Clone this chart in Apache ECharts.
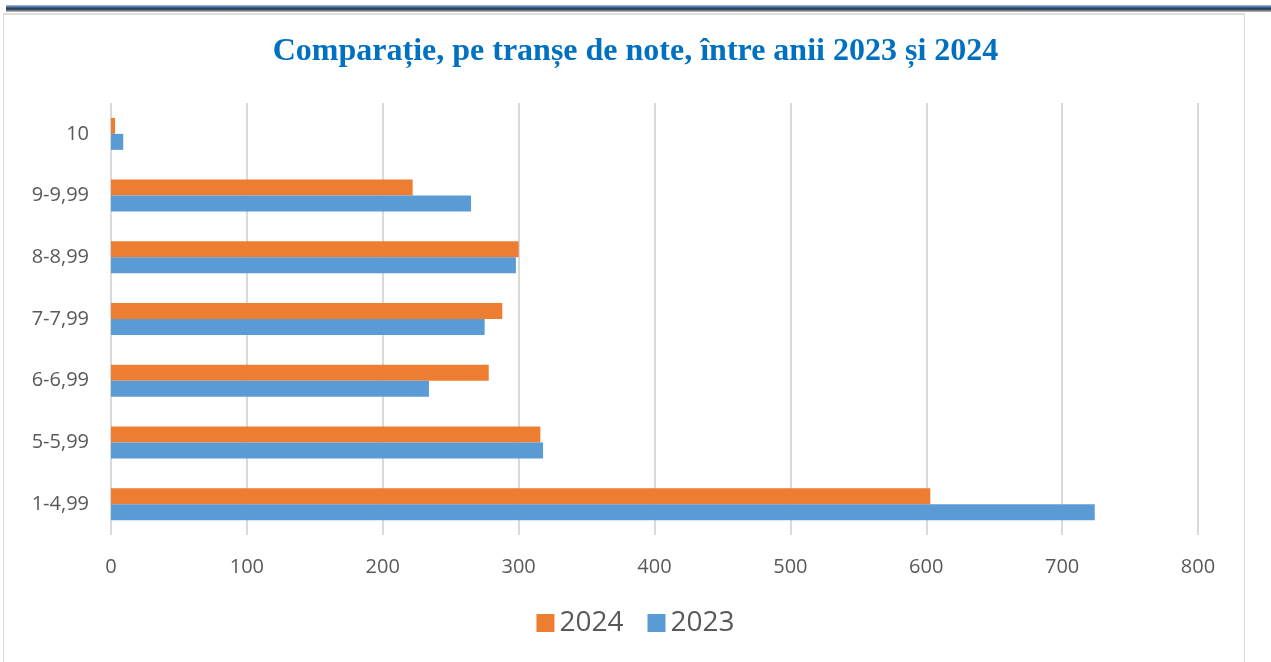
<!DOCTYPE html>
<html>
<head>
<meta charset="utf-8">
<script src="https://cdn.jsdelivr.net/npm/echarts@6/dist/echarts.min.js"></script>
<style>
    html, body { margin: 0; padding: 0; background: #fff; }
    #topline {
        position: absolute; left: 6px; top: 5px; width: 1265px; height: 7px;
        background: linear-gradient(#a9c4e4 0%, #4a6a98 30%, #1f3556 55%, #7a7a7a 80%, #c8c8c8 100%);
    }
    #frame {
        position: absolute; left: 3px; top: 13px; width: 1240px; height: 660px;
        border: 1px solid #d9d9d9; border-top: 2px solid #dedede;
    }
    #chart { position: absolute; left: 0; top: 0; width: 1271px; height: 662px; }
</style>
</head>
<body>
<div id="topline"></div>
<div id="frame"></div>
<div id="chart"></div>
<script>
let $ = a=>document.querySelector(a)

// categorii (de jos in sus)
const categories = ['1-4,99', '5-5,99', '6-6,99', '7-7,99', '8-8,99', '9-9,99', '10']
const values2023 = [724, 318, 234, 275, 298, 265, 9]
const values2024 = [603, 316, 278, 288, 300, 222, 3]
const xTicks = [0, 100, 200, 300, 400, 500, 600, 700, 800]

echarts.init($('#chart')).setOption({
    title: {
        text: 'Comparație, pe tranșe de note, între anii 2023 și 2024',
        left: 'center',
        top: 31,
        textStyle: {
            fontFamily: 'Liberation Serif',
            fontWeight: 'bold',
            fontSize: 32,
            color: '#0070c0'
        }
    },
    legend: {
        data: ['2024', '2023'],
        bottom: 20,
        left: 'center',
        itemWidth: 18,
        itemHeight: 18,
        itemGap: 24,
        icon: 'rect',
        textStyle: {
            fontFamily: 'Open Sans',
            fontSize: 28,
            color: '#595959'
        }
    },
    grid: {
        left: 111,
        right: 73,
        top: 103,
        bottom: 127
    },
    xAxis: {
        type: 'value',
        min: xTicks[0],
        max: xTicks[xTicks.length - 1],
        interval: 100,
        axisLine: { show: false },
        axisTick: { show: false },
        splitLine: {
            lineStyle: { color: '#d9d9d9', width: 2 }
        },
        axisLabel: {
            margin: 22,
            fontFamily: 'Open Sans',
            fontSize: 20,
            color: '#595959'
        }
    },
    yAxis: {
        type: 'category',
        data: categories,
        axisLine: { show: false },
        axisTick: { show: false },
        axisLabel: {
            margin: 22,
            fontFamily: 'Open Sans',
            fontSize: 20,
            color: '#595959'
        }
    },
    series: [
        {
            name: '2024',
            type: 'bar',
            data: values2024,
            barWidth: 16,
            barGap: '0%',
            itemStyle: { color: '#ed7d31' }
        },
        {
            name: '2023',
            type: 'bar',
            data: values2023,
            barWidth: 16,
            barGap: '0%',
            itemStyle: { color: '#5b9bd5' }
        }
    ]
})
</script>
</body>
</html>
